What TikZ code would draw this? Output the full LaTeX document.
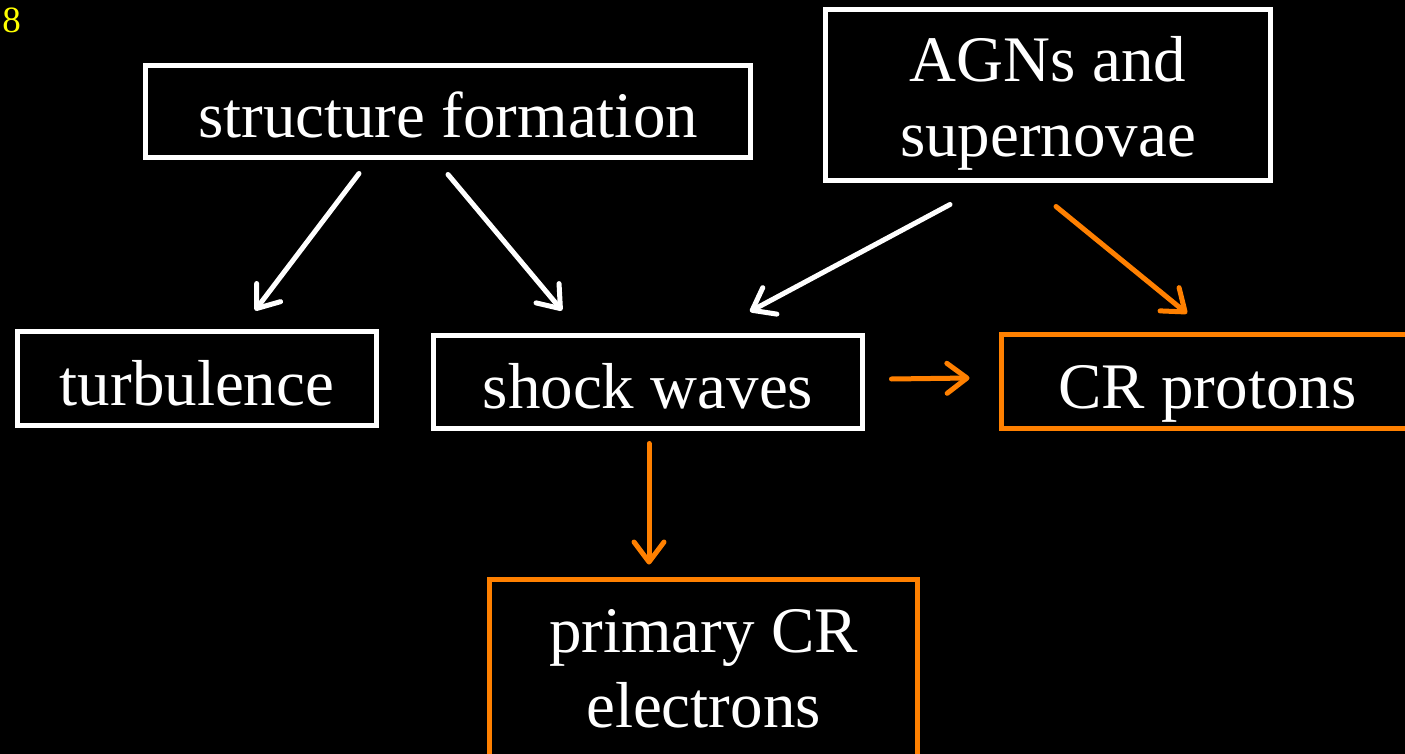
\documentclass[tikz,border=0pt]{standalone}
\usepackage{fontspec}
\setmainfont{Liberation Serif}
\usepackage{tikz}
\usetikzlibrary{arrows.meta,positioning,calc}
\definecolor{flame}{HTML}{FF8000}
\definecolor{pagenum}{HTML}{FFFF00}

\begin{document}
\begin{tikzpicture}[x=1pt, y=-1pt,
    every node/.style={font=\fontsize{65}{75}\selectfont, align=center, text=white},
    card/.style={draw, line width=5pt, inner sep=0pt},
    oneline/.style={text height=53pt, text depth=0pt},
    flow/.style={-{Straight Barb[length=20pt, width=30pt, line cap=round, line join=round]}, line width=5pt, line cap=round}]
    \useasboundingbox (0,0) rectangle (1405,754);
    \fill[black] (0,0) rectangle (1405,754);
    \node[text=pagenum, font=\fontsize{37}{40}\selectfont] (num) at (11.5,20.5) {8};
    \node[card, draw=white, oneline, minimum width=605pt, minimum height=92pt] (sf) at (448,111.5) {structure formation};
    \node[card, draw=white, text height=124pt, text depth=0pt, minimum width=445pt, minimum height=171pt] (agn) at (1048,95) {AGNs and\\supernovae};
    \node[card, draw=white, oneline, minimum width=359pt, minimum height=94pt] (turb) at (197,378.5) {turbulence};
    \node[card, draw=white, oneline, minimum width=429pt, minimum height=93pt] (sw) at (648,382) {shock waves};
    \node[card, draw=flame, oneline, minimum width=412pt, minimum height=94pt] (crp) at (1207.5,381.5) {CR protons};
    \node[card, draw=flame, text height=114pt, text depth=0pt, minimum width=428pt, minimum height=181pt] (pce) at (703.5,670) {primary CR\\electrons};
    \draw[flow, white] ([xshift=-89pt, yshift=-13.5pt]sf.south) -- ([xshift=58pt, yshift=18.5pt]turb.north);
    \draw[flow, white] ([yshift=-14.5pt]sf.south) -- ([xshift=-86pt, yshift=22.5pt]sw.north);
    \draw[flow, white] ([xshift=-98pt, yshift=-21.5pt]agn.south) -- ([xshift=102pt, yshift=21.5pt]sw.north);
    \draw[flow, flame] ([xshift=8pt, yshift=-23.5pt]agn.south) -- ([xshift=-20.5pt, yshift=18.5pt]crp.north);
    \draw[flow, flame] ([xshift=26.5pt, yshift=3pt]sw.east) -- ([xshift=-29.5pt, yshift=3.5pt]crp.west);
    \draw[flow, flame] ([xshift=1pt, yshift=-12.5pt]sw.south) -- ([xshift=-54.5pt, yshift=12.5pt]pce.north);
  \end{tikzpicture}
\end{document}
